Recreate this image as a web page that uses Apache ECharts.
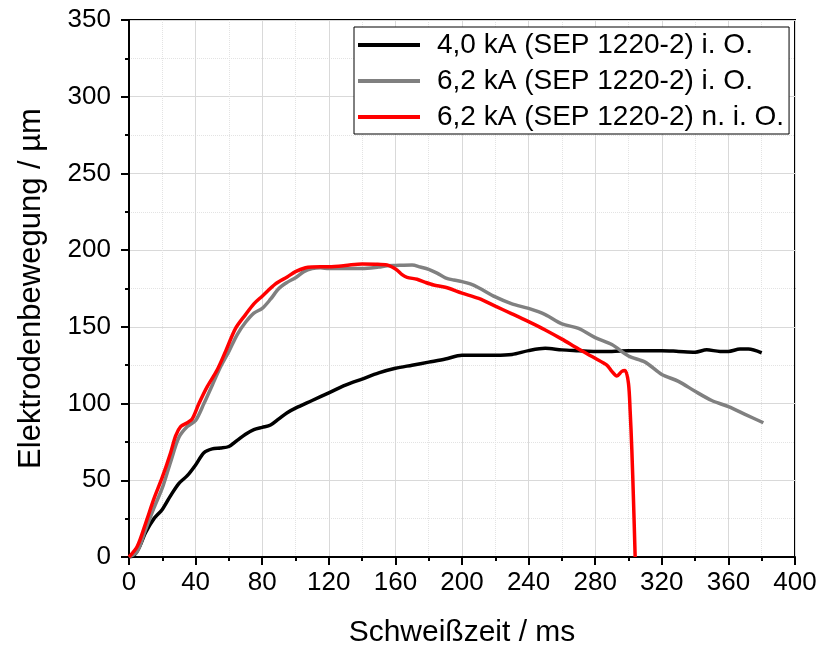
<!DOCTYPE html>
<html>
<head>
<meta charset="utf-8">
<script src="https://cdn.jsdelivr.net/npm/echarts@6.0.0/dist/echarts.min.js"></script>
<style>
  html, body { margin: 0; padding: 0; background: #fff; }
  #main { width: 819px; height: 648px; }
</style>
</head>
<body>
<div id="main"></div>
<script>
// Elektrodenbewegung über Schweißzeit
const seriesNames = ['4,0 kA (SEP 1220-2) i. O.', '6,2 kA (SEP 1220-2) i. O.', '6,2 kA (SEP 1220-2) n. i. O.']
const seriesColors = ['#000000', '#808080', '#ff0000']

// 4,0 kA i. O.
const timeA = [0, 3, 6, 10, 15, 20, 25, 30, 35, 40, 45, 50, 55, 60, 65, 70, 75, 80, 85, 90, 95, 100, 110, 120, 130, 140, 150, 160, 170, 180, 190, 200, 210, 220, 230, 240, 250, 260, 270, 280, 290, 300, 310, 320, 330, 340, 347, 355, 360, 367, 372, 380]
const moveA = [0, 1, 6, 16, 25, 31, 40, 48, 53, 60, 68, 70.5, 71, 72, 76, 80, 83, 84.5, 86, 90, 94, 97, 102, 107, 112, 116, 120, 123, 125, 127, 129, 131.5, 131.5, 131.5, 132, 134.5, 136, 135, 134.5, 134, 134, 134.5, 134.5, 134.5, 134, 133.5, 135, 134, 134, 135.5, 135.5, 133]

// 6,2 kA i. O.
const timeB = [0, 5, 10, 15, 20, 25, 30, 35, 40, 45, 50, 55, 60, 65, 70, 75, 80, 85, 90, 95, 100, 105, 110, 115, 120, 130, 140, 150, 155, 160, 170, 175, 180, 185, 190, 195, 200, 205, 210, 220, 230, 240, 250, 260, 270, 280, 290, 300, 310, 320, 330, 340, 350, 360, 370, 381]
const moveB = [0, 3.5, 18, 32, 45, 62, 78, 85, 89, 100, 112, 124, 134, 145, 153, 159, 162, 168, 175, 179, 182, 186, 188, 188.5, 188, 188, 188, 189, 189.8, 190, 190.3, 189, 187.5, 185, 182, 180.5, 179.5, 178, 175.5, 169.5, 165, 162, 158, 152, 149, 143, 138.5, 131, 127, 119, 114.5, 108, 102, 98, 93, 87.5]

// 6,2 kA n. i. O.
const timeC = [0, 5, 10, 15, 20, 25, 28, 31, 35, 38, 42, 47, 53, 58, 64, 70, 75, 80, 88, 95, 100, 106, 110, 120, 130, 140, 148, 155, 158, 161, 164, 167, 173, 178, 183, 190, 200, 210, 220, 230, 240, 250, 260, 270, 280, 287, 290, 293, 296, 298, 300, 301, 302, 303, 304]
const moveC = [0, 7, 22, 38, 52, 68, 79, 85, 87.5, 90, 100, 111, 122, 134, 149, 158, 165, 170, 178, 182.5, 186, 188.5, 189, 189.2, 190, 191, 190.8, 190.3, 189, 187, 184, 182.3, 181, 179, 177.3, 175.8, 172, 168.5, 163.5, 158.5, 153.4, 148, 142, 135.5, 129.5, 125, 121, 118, 121, 121.5, 113, 95, 70, 37, 0]

const xTicks = { min: 0, max: 400, interval: 40 }
const yTicks = { min: 0, max: 350, interval: 50 }

const pairs = (xs, ys) => xs.map((x, i) => [x, ys[i]])
const allData = [pairs(timeA, moveA), pairs(timeB, moveB), pairs(timeC, moveC)]

const chart = echarts.init(document.getElementById('main'))

const axisFont = 'Liberation Sans, Arial, sans-serif'

const option = {
  backgroundColor: '#fff',
  animation: false,
  grid: {
    left: 129, right: 24, top: 20, bottom: 91,
    outerBoundsMode: 'none',
    show: true, borderColor: '#000', borderWidth: 2
  },
  legend: {
    left: 354, top: 27,
    orient: 'vertical',
    data: seriesNames,
    icon: 'rect',
    itemWidth: 62, itemHeight: 4,
    itemGap: 6,
    padding: [3, 5, 2, 4],
    borderColor: '#000', borderWidth: 1,
    backgroundColor: '#fff',
    textStyle: {
      fontFamily: axisFont, fontSize: 28, color: '#000',
      lineHeight: 30, padding: [0, 0, 0, 12]
    }
  },
  xAxis: {
    type: 'value',
    min: xTicks.min, max: xTicks.max, interval: xTicks.interval,
    name: 'Schweißzeit / ms',
    nameLocation: 'middle', nameGap: 61,
    nameTextStyle: { fontFamily: axisFont, fontSize: 30, color: '#000' },
    axisLine: { onZero: false, lineStyle: { color: '#000', width: 2 } },
    axisTick: { inside: false, length: 8, lineStyle: { color: '#000', width: 2 } },
    minorTick: { show: true, splitNumber: 2, length: 4, lineStyle: { color: '#000', width: 2 } },
    axisLabel: { fontFamily: axisFont, fontSize: 26, color: '#000', margin: 13 },
    splitLine: { show: true, lineStyle: { color: '#d9d9d9', width: 1 } },
    minorSplitLine: { show: true, lineStyle: { color: '#e3e3e3', width: 1, type: 'dotted' } }
  },
  yAxis: {
    type: 'value',
    min: yTicks.min, max: yTicks.max, interval: yTicks.interval,
    name: 'Elektrodenbewegung / µm',
    nameLocation: 'middle', nameGap: 82,
    nameTextStyle: { fontFamily: axisFont, fontSize: 31, color: '#000' },
    axisLine: { onZero: false, lineStyle: { color: '#000', width: 2 } },
    axisTick: { inside: false, length: 8, lineStyle: { color: '#000', width: 2 } },
    minorTick: { show: true, splitNumber: 2, length: 4, lineStyle: { color: '#000', width: 2 } },
    axisLabel: { fontFamily: axisFont, fontSize: 26, color: '#000', margin: 18 },
    splitLine: { show: true, lineStyle: { color: '#d9d9d9', width: 1 } },
    minorSplitLine: { show: true, lineStyle: { color: '#e3e3e3', width: 1, type: 'dotted' } }
  },
  series: allData.map((d, i) => ({
    name: seriesNames[i],
    type: 'line',
    data: d,
    smooth: 0.3,
    symbol: 'none',
    color: seriesColors[i],
    lineStyle: { color: seriesColors[i], width: 3.5 },
    z: 2 + i
  }))
}

chart.setOption(option)
</script>
</body>
</html>
